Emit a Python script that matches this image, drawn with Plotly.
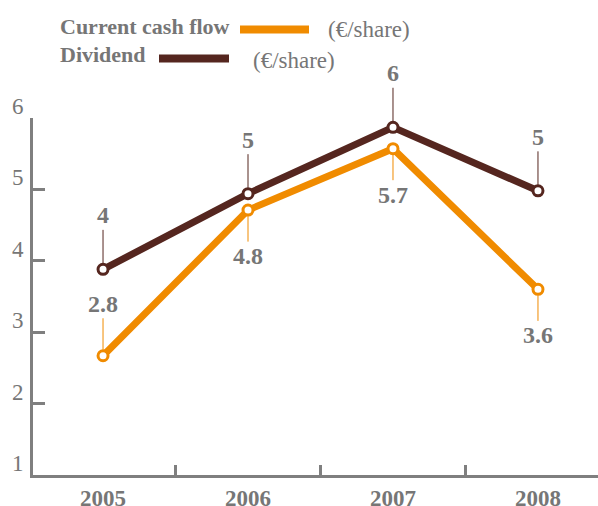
import plotly.graph_objects as go

years = ["2005", "2006", "2007", "2008"]
dividend = [3.88, 4.94, 5.87, 4.98]
dividend_labels = ["4", "5", "6", "5"]
cash_flow = [2.67, 4.71, 5.57, 3.60]
cash_flow_labels = ["2.8", "4.8", "5.7", "3.6"]
cash_label_side = ["above", "below", "below", "below"]
y_ticks = [1, 2, 3, 4, 5, 6]

BROWN = "#55261f"
ORANGE = "#f08b00"
GRAY = "#767676"
AXIS = "#7f7f7f"
FONT = "Liberation Serif"

W, H = 598, 506
L, R, T, B = 33, 0, 118, 31
PW, PH = W - L - R, H - T - B


def px(x):
    return (x - L) / PW


def py(y):
    return (H - B - y) / PH


fig = go.Figure()
fig.add_trace(go.Scatter(
    x=years, y=cash_flow, mode="lines+markers", name="Current cash flow",
    line=dict(color=ORANGE, width=7),
    marker=dict(symbol="circle", size=10, color="white", line=dict(color=ORANGE, width=3)),
    cliponaxis=False,
))
fig.add_trace(go.Scatter(
    x=years, y=dividend, mode="lines+markers", name="Dividend",
    line=dict(color=BROWN, width=7),
    marker=dict(symbol="circle", size=10, color="white", line=dict(color=BROWN, width=3)),
    cliponaxis=False,
))

ann = []
for i, (v, t) in enumerate(zip(dividend, dividend_labels)):
    ann.append(dict(x=i, y=v, xref="x", yref="y", text="<b>" + t + "</b>", showarrow=True,
                    arrowhead=0, arrowwidth=1, arrowcolor=BROWN, ax=0, ay=-54,
                    standoff=6, font=dict(family=FONT, size=24, color=GRAY)))
for i, (v, t, side) in enumerate(zip(cash_flow, cash_flow_labels, cash_label_side)):
    ann.append(dict(x=i, y=v, xref="x", yref="y", text="<b>" + t + "</b>", showarrow=True,
                    arrowhead=0, arrowwidth=1, arrowcolor=ORANGE, ax=0,
                    ay=-52 if side == "above" else 46,
                    standoff=6, font=dict(family=FONT, size=24, color=GRAY)))

# legend as text + line swatches
ann += [
    dict(x=px(58), y=py(26), xref="paper", yref="paper", text="<b>Current cash flow</b>",
         showarrow=False, xanchor="left", yanchor="middle",
         font=dict(family=FONT, size=22, color=GRAY)),
    dict(x=px(326), y=py(29), xref="paper", yref="paper", text="(€/share)",
         showarrow=False, xanchor="left", yanchor="middle",
         font=dict(family=FONT, size=23, color=GRAY)),
    dict(x=px(58), y=py(55), xref="paper", yref="paper", text="<b>Dividend</b>",
         showarrow=False, xanchor="left", yanchor="middle",
         font=dict(family=FONT, size=22, color=GRAY)),
    dict(x=px(251), y=py(61), xref="paper", yref="paper", text="(€/share)",
         showarrow=False, xanchor="left", yanchor="middle",
         font=dict(family=FONT, size=23, color=GRAY)),
]
shapes = [
    dict(type="line", xref="paper", yref="paper", x0=px(240), x1=px(309), y0=py(29.5), y1=py(29.5),
         line=dict(color=ORANGE, width=8)),
    dict(type="line", xref="paper", yref="paper", x0=px(159), x1=px(229), y0=py(58.5), y1=py(58.5),
         line=dict(color=BROWN, width=8)),
]

fig.update_layout(
    width=W, height=H,
    margin=dict(l=L, r=R, t=T, b=B, pad=0, autoexpand=False),
    paper_bgcolor="white", plot_bgcolor="white",
    showlegend=False,
    annotations=ann, shapes=shapes,
    font=dict(family=FONT, color=GRAY),
)
fig.update_xaxes(
    type="category", range=[-0.483, 3.414], tickson="boundaries", automargin=False,
    ticks="inside", ticklen=10, tickwidth=3, tickcolor=AXIS,
    showline=True, linecolor=AXIS, linewidth=3, showgrid=False, zeroline=False,
    tickfont=dict(family=FONT, size=23, color=GRAY, weight="bold"),
)
fig.update_yaxes(
    range=[1, 6], tickvals=y_ticks, ticktext=[str(v) for v in y_ticks], automargin=False,
    ticks="inside", ticklen=12, tickwidth=3, tickcolor=AXIS,
    showline=True, linecolor=AXIS, linewidth=3, showgrid=False, zeroline=False,
    ticklabelshift=-12, ticklabelstandoff=2,
    tickfont=dict(family=FONT, size=23, color=GRAY),
)

fig.write_html("out.html", config={"displayModeBar": False},
               post_script="document.body.style.margin='0';document.body.style.overflow='hidden';")
